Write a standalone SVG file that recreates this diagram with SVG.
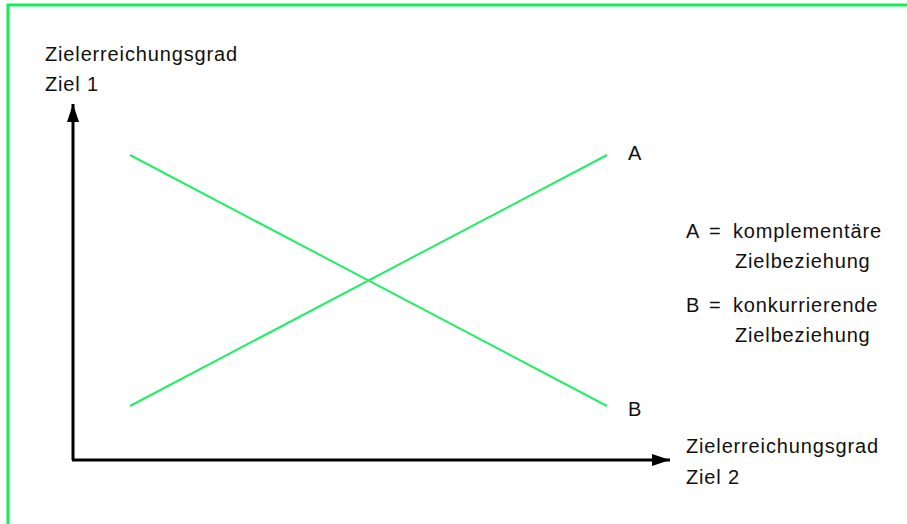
<svg xmlns="http://www.w3.org/2000/svg" width="907" height="524" viewBox="0 0 907 524">
<style>
text{font-family:"Liberation Sans",Arial,sans-serif;font-size:20px;letter-spacing:0.85px;fill:#111}
.axis{stroke:#000;stroke-width:3;fill:none}
.curve{stroke:#22ee66;stroke-width:2;fill:none}
</style>
<defs>
<marker id="ah" viewBox="0 0 18 12" refX="18" refY="6" markerWidth="18" markerHeight="12" markerUnits="userSpaceOnUse" orient="auto">
<path d="M0,0 L18,6 L0,12 Z" fill="#000"/>
</marker>
</defs>
<rect x="8" y="5" width="910" height="530" fill="none" stroke="#11ee5a" stroke-width="3"/>
<g id="connectors">
<path class="axis" d="M73,460 L73,104" marker-end="url(#ah)"/>
<path class="axis" d="M72,460 L670,460" marker-end="url(#ah)"/>
<path class="curve" d="M130,406 L607,155"/>
<path class="curve" d="M130,155 L607,406"/>
</g>
<g id="ylabel"><text x="45" y="61">Zielerreichungsgrad</text><text x="45" y="91">Ziel 1</text></g>
<g id="xlabel"><text x="686" y="453">Zielerreichungsgrad</text><text x="686" y="484">Ziel 2</text></g>
<g id="labelA"><text x="628" y="160">A</text></g>
<g id="labelB"><text x="628" y="416">B</text></g>
<g id="legend">
<text x="686" y="238">A</text><text x="709" y="238">=</text><text x="733" y="238">komplementäre</text>
<text x="735" y="268">Zielbeziehung</text>
<text x="686" y="312">B</text><text x="709" y="312">=</text><text x="733" y="312">konkurrierende</text>
<text x="735" y="342">Zielbeziehung</text>
</g>
</svg>
